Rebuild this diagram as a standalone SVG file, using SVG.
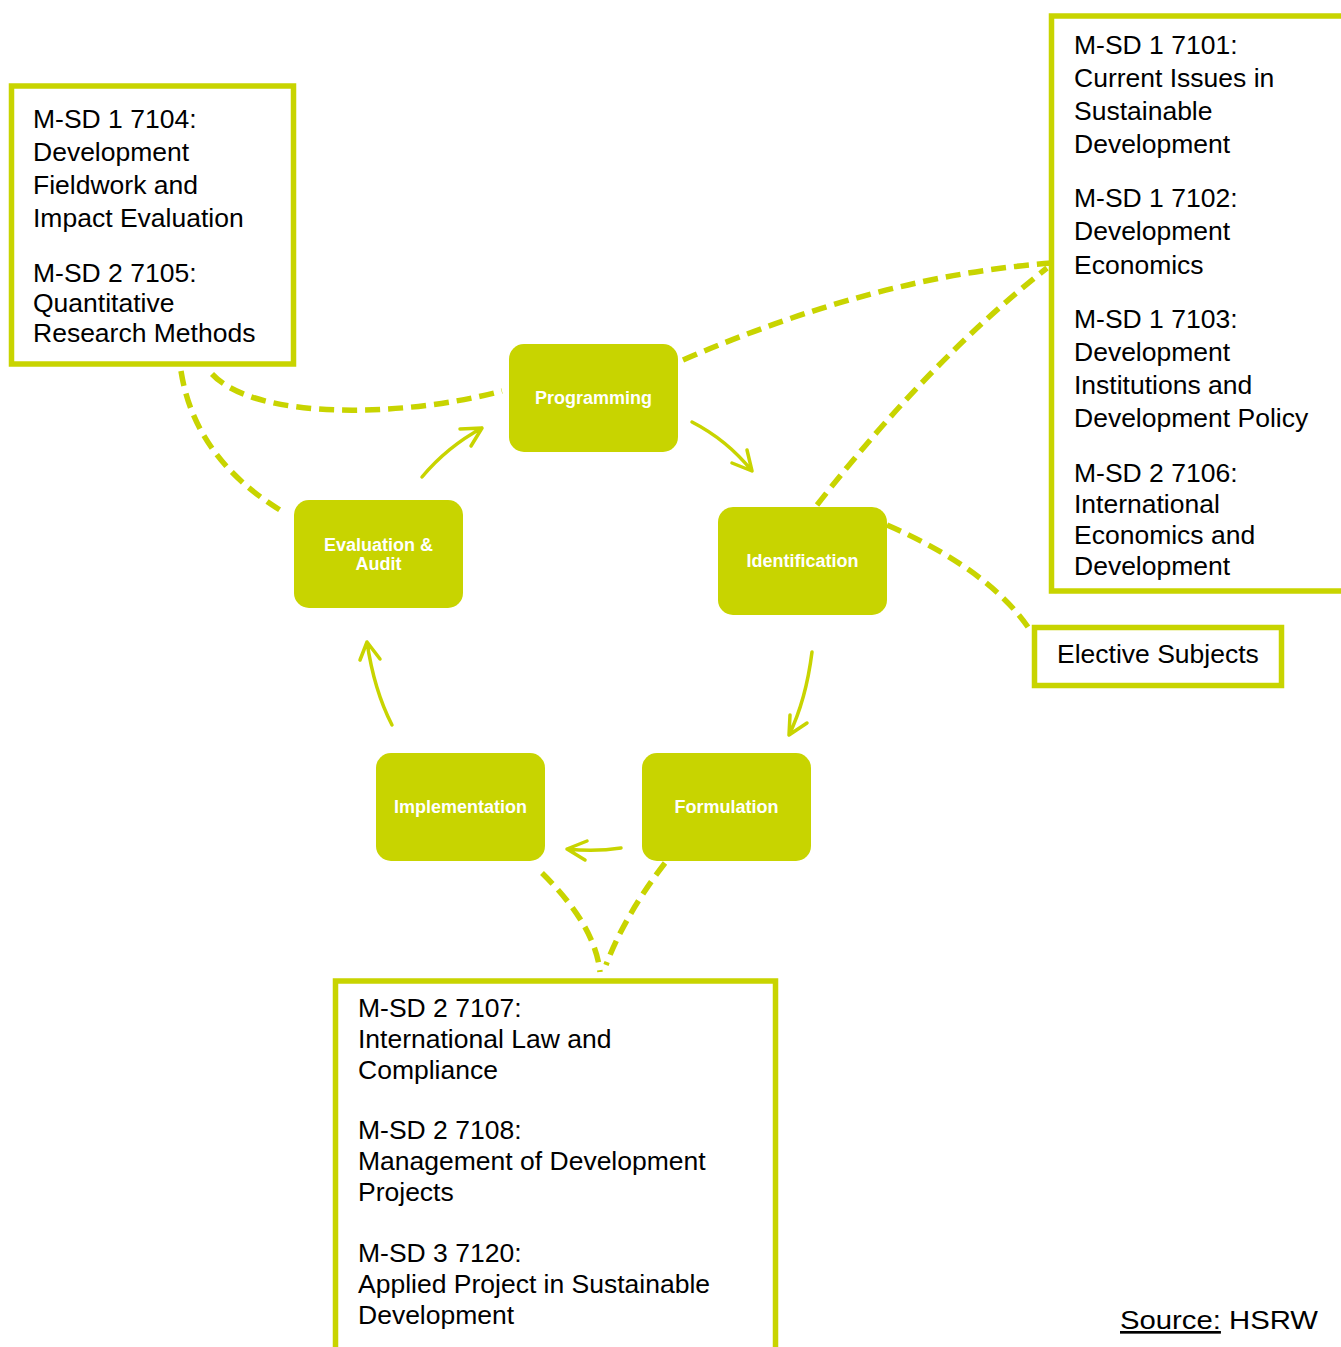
<svg xmlns="http://www.w3.org/2000/svg" width="1341" height="1347" viewBox="0 0 1341 1347">
<style>
.box{fill:#fff;stroke:#C8D400;stroke-width:5.5}
.node{fill:#C8D400}
.nt{font-family:"Liberation Sans",Arial,sans-serif;font-weight:bold;font-size:18px;fill:#fff;text-anchor:middle}
.bt{font-family:"Liberation Sans",Arial,sans-serif;font-size:26.5px;fill:#000}
.dash{fill:none;stroke:#C8D400;stroke-width:5.5;stroke-dasharray:15 8}
.arr{fill:none;stroke:#C8D400;stroke-width:3.5;stroke-linecap:round;stroke-linejoin:round}
</style>
<rect width="1341" height="1347" fill="#fff"/>
<g id="connectors">
<path class="dash" d="M212,374 C255,420 400,418 502,391"/>
<path class="dash" d="M181,371 Q195,460 285,513"/>
<path class="dash" d="M683,360 Q880,275 1053,263"/>
<path class="dash" d="M817,505 Q930,360 1047,268"/>
<path class="dash" d="M887,525 Q990,570 1030,630"/>
<path class="dash" d="M542,873 Q595,925 600,972"/>
<path class="dash" d="M665,863 Q625,915 606,965"/>
<path class="arr" d="M422,477 Q447,447 482,428 M460,429 L482,428 L471,446"/>
<path class="arr" d="M692,422 Q727,440 752,471 M732,463 L752,471 L747,450"/>
<path class="arr" d="M812,652 Q806,700 789,735 M807,723 L789,735 L790,715"/>
<path class="arr" d="M621,848 Q595,852 567,849 M587,841 L567,849 L585,860"/>
<path class="arr" d="M392,725 Q374,690 367,642 M360,660 L367,642 L380,659"/>
</g>
<g id="box-left">
<rect class="box" x="11.5" y="86" width="282" height="278"/>
<text class="bt"><tspan x="33" y="128">M-SD 1 7104:</tspan><tspan x="33" y="161">Development</tspan><tspan x="33" y="194">Fieldwork and</tspan><tspan x="33" y="227">Impact Evaluation</tspan><tspan x="33" y="282">M-SD 2 7105:</tspan><tspan x="33" y="312">Quantitative</tspan><tspan x="33" y="342">Research Methods</tspan></text>
</g>
<g id="box-right">
<rect class="box" x="1051.5" y="16" width="300" height="575"/>
<text class="bt"><tspan x="1074" y="54">M-SD 1 7101:</tspan><tspan x="1074" y="87">Current Issues in</tspan><tspan x="1074" y="120">Sustainable</tspan><tspan x="1074" y="153">Development</tspan><tspan x="1074" y="207">M-SD 1 7102:</tspan><tspan x="1074" y="240">Development</tspan><tspan x="1074" y="274">Economics</tspan><tspan x="1074" y="328">M-SD 1 7103:</tspan><tspan x="1074" y="361">Development</tspan><tspan x="1074" y="394">Institutions and</tspan><tspan x="1074" y="427">Development Policy</tspan><tspan x="1074" y="482">M-SD 2 7106:</tspan><tspan x="1074" y="513">International</tspan><tspan x="1074" y="544">Economics and</tspan><tspan x="1074" y="575">Development</tspan></text>
</g>
<g id="box-elective">
<rect class="box" x="1034.5" y="627.5" width="247" height="58"/>
<text class="bt" x="1057" y="663">Elective Subjects</text>
</g>
<g id="box-bottom">
<rect class="box" x="335.5" y="981" width="440" height="400"/>
<text class="bt"><tspan x="358" y="1017">M-SD 2 7107:</tspan><tspan x="358" y="1048">International Law and</tspan><tspan x="358" y="1079">Compliance</tspan><tspan x="358" y="1139">M-SD 2 7108:</tspan><tspan x="358" y="1170">Management of Development</tspan><tspan x="358" y="1201">Projects</tspan><tspan x="358" y="1262">M-SD 3 7120:</tspan><tspan x="358" y="1293">Applied Project in Sustainable</tspan><tspan x="358" y="1324">Development</tspan></text>
</g>
<g id="node-programming">
<rect class="node" x="509" y="344" width="169" height="108" rx="15"/>
<text class="nt" x="593.5" y="404">Programming</text>
</g>
<g id="node-identification">
<rect class="node" x="718" y="507" width="169" height="108" rx="15"/>
<text class="nt" x="802.5" y="567">Identification</text>
</g>
<g id="node-formulation">
<rect class="node" x="642" y="753" width="169" height="108" rx="15"/>
<text class="nt" x="726.5" y="813">Formulation</text>
</g>
<g id="node-implementation">
<rect class="node" x="376" y="753" width="169" height="108" rx="15"/>
<text class="nt" x="460.5" y="813">Implementation</text>
</g>
<g id="node-evaluation">
<rect class="node" x="294" y="500" width="169" height="108" rx="15"/>
<text class="nt"><tspan x="378.5" y="551">Evaluation &amp;</tspan><tspan x="378.5" y="570">Audit</tspan></text>
</g>
<g id="source">
<text class="bt" x="1120" y="1329" textLength="198" lengthAdjust="spacingAndGlyphs"><tspan text-decoration="underline">Source:</tspan> HSRW</text>
</g>
</svg>
